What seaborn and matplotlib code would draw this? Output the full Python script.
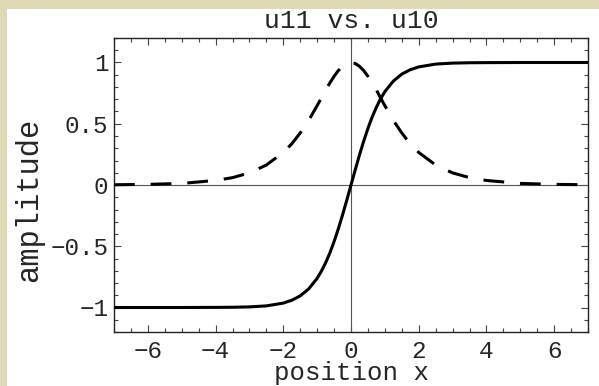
import matplotlib
matplotlib.use("Agg")
import matplotlib.pyplot as plt
import matplotlib.patches as mpatches
from matplotlib.ticker import MultipleLocator
import pandas as pd
import seaborn as sns

# values
position = [-7, -6, -5, -4, -3.5, -3, -2.5, -2, -1.75, -1.5, -1.25, -1, -0.875,
            -0.75, -0.625, -0.5, -0.375, -0.25, -0.125, 0, 0.125, 0.25, 0.375,
            0.5, 0.625, 0.75, 0.875, 1, 1.25, 1.5, 1.75, 2, 2.5, 3, 3.5, 4, 5, 6, 7]
u11 = [-1.0, -1.0, -1.0, -0.999, -0.998, -0.995, -0.987, -0.964, -0.941, -0.905,
       -0.848, -0.762, -0.704, -0.635, -0.555, -0.462, -0.358, -0.245, -0.124,
       0.0, 0.124, 0.245, 0.358, 0.462, 0.555, 0.635, 0.704, 0.762, 0.848, 0.905,
       0.941, 0.964, 0.987, 0.995, 0.998, 0.999, 1.0, 1.0, 1.0]
u10 = [0.002, 0.005, 0.013, 0.037, 0.060, 0.099, 0.163, 0.266, 0.336, 0.425,
       0.528, 0.648, 0.710, 0.776, 0.833, 0.887, 0.934, 0.969, 0.992, 1.0,
       0.992, 0.969, 0.934, 0.887, 0.833, 0.776, 0.710, 0.648, 0.528, 0.425,
       0.336, 0.266, 0.163, 0.099, 0.060, 0.037, 0.013, 0.005, 0.002]

df = pd.DataFrame({"x": position, "u11": u11, "u10": u10})

sns.set_style("ticks")
plt.rcParams["font.family"] = ["Liberation Mono", "DejaVu Sans"]

fig = plt.figure(figsize=(5.99, 3.86), dpi=100)
fig.patch.set_facecolor("white")
# parchment strips along the left and top edges
parchment = "#dedab6"
fig.patches.append(mpatches.Rectangle((0, 0), 7 / 599, 1, transform=fig.transFigure,
                                      facecolor=parchment, edgecolor="none", zorder=-5))
fig.patches.append(mpatches.Rectangle((0, 1 - 9 / 386), 1, 9 / 386, transform=fig.transFigure,
                                      facecolor=parchment, edgecolor="none", zorder=-5))
ax = fig.add_axes([114 / 599, 54 / 386, 474 / 599, 294 / 386])
ax.set_zorder(2)

ax.axhline(0, color="#555555", lw=0.8, zorder=1)
ax.axvline(0, color="#555555", lw=0.8, zorder=1)

sns.lineplot(data=df, x="x", y="u10", ax=ax, color="black", lw=2.2, zorder=3)
ax.lines[-1].set_dashes([6.8, 5.2])
sns.lineplot(data=df, x="x", y="u11", ax=ax, color="black", lw=2.2, zorder=3)

ax.set_xlim(-7, 7)
ax.set_ylim(-1.2, 1.2)
ax.xaxis.set_minor_locator(MultipleLocator(0.5))
ax.yaxis.set_minor_locator(MultipleLocator(0.1))
ax.set_yticks([-1, -0.5, 0, 0.5, 1])
ax.set_yticklabels(["\u22121", "\u22120.5", "0", "0.5", "1"])
ax.set_xticks([-6, -4, -2, 0, 2, 4, 6])
ax.set_xticklabels(["\u22126", "\u22124", "\u22122", "0", "2", "4", "6"])
ax.tick_params(which="both", direction="in", top=True, right=True,
               color="#444444", width=0.8, labelsize=17.5)
ax.tick_params(axis="x", pad=6)
ax.tick_params(axis="y", pad=4)
ax.tick_params(which="major", length=5)
ax.tick_params(which="minor", length=3)
for s in ax.spines.values():
    s.set_linewidth(1.0)
    s.set_color("#222222")

ax.set_title("u11 vs. u10", fontsize=19, pad=7)
ax.set_xlabel("position x", fontsize=18.5, labelpad=-1.5)
ax.set_ylabel("amplitude", fontsize=22)
ax.yaxis.set_label_coords(-0.147, 0.45)

fig.savefig("out.png", dpi=100, facecolor=fig.get_facecolor())
